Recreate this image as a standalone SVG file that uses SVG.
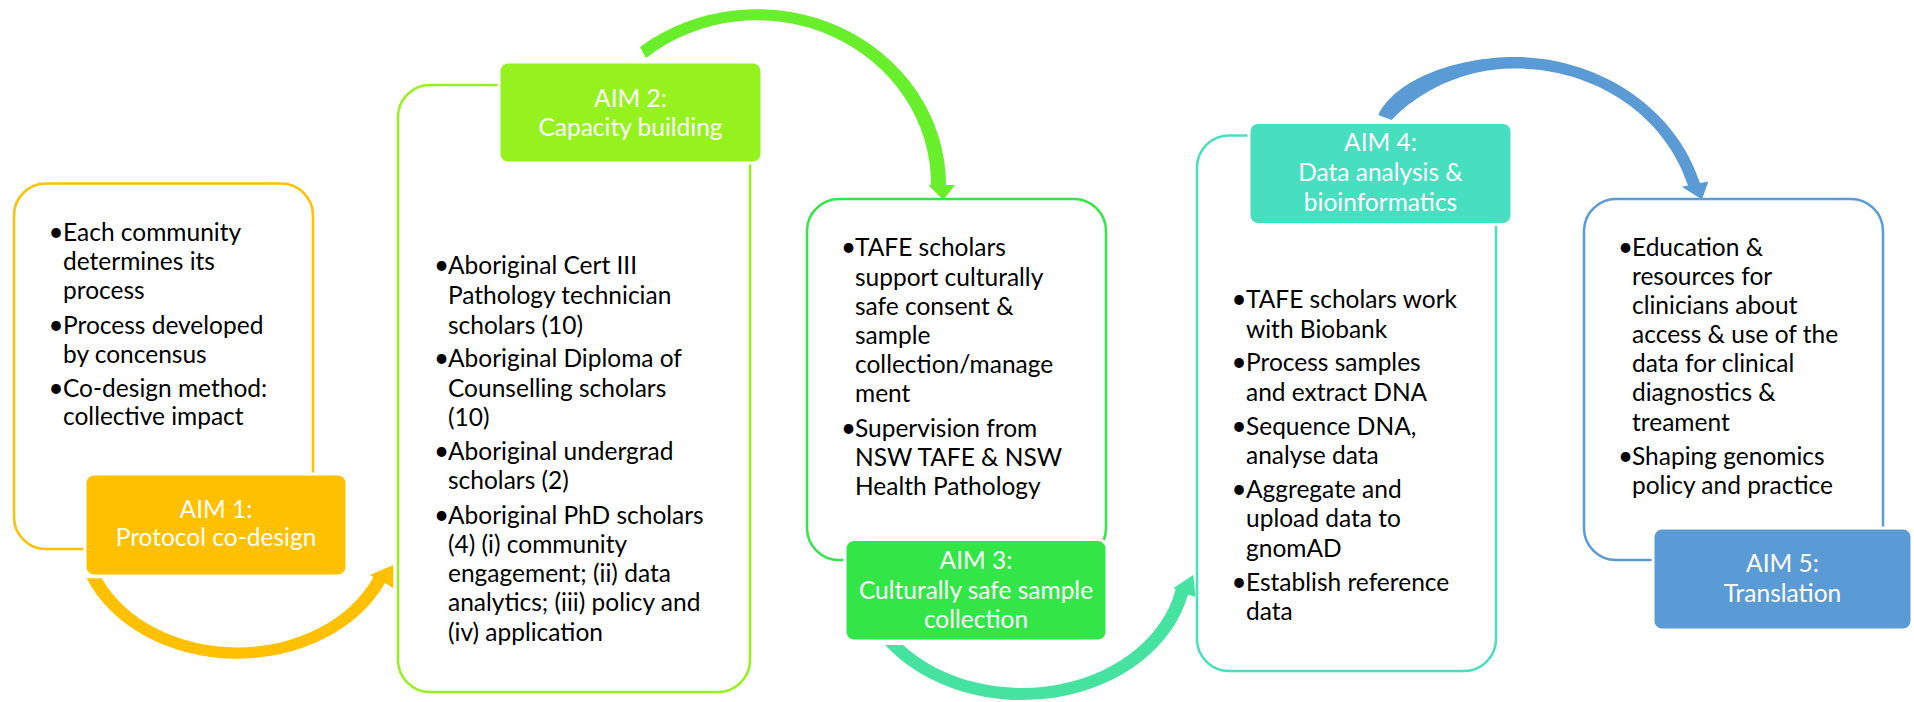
<svg xmlns="http://www.w3.org/2000/svg" width="1914" height="702" viewBox="0 0 1914 702">
<style>
.box{fill:#fff;stroke-width:2.5}
.lbl{stroke:#fff;stroke-width:3}
.t{font-family:Lato,"Open Sans",sans-serif;font-size:24.5px;fill:#000}
.b{font-family:Lato,"Open Sans",sans-serif;font-size:26px;fill:#000;text-anchor:middle}
.lt{font-family:Lato,"Open Sans",sans-serif;font-size:24.5px;fill:#fff;text-anchor:middle}
</style>
<rect width="1914" height="702" fill="#fff"/>
<g id="connectors">
<path id="arrow1" fill="#FFC000" d="M86.7,578.3 A162.2 128.5 0 0 0 385,583 L393.3,588.3 L393.3,565 L370,575 L373.5,577 A148.5 117 0 0 1 101.7,578.3 Z"/>
<path id="arrow2" fill="#68EE2A" d="M640,47 A189 176 0 0 1 946,185 L955,185 L943.3,200 L928.3,185 L931,185 A174 164 0 0 0 646,58 Z"/>
<path id="arrow3" fill="#45E2A0" d="M885.1,645 A170 135 0 0 0 1188,594.5 L1195.5,597 L1193.3,575 L1173.3,588.3 L1175.7,589 A156.7 123 0 0 1 903,645 Z"/>
<path id="arrow4" fill="#5B9BD5" d="M1378.3,115 C1395,80 1455,57 1515,57 C1595,57 1675,105 1700,183 L1708.3,181.7 L1702,199.5 L1681.7,186.7 L1688,185.5 C1665,115 1595,68.5 1515,68.5 C1462,68.5 1418,92 1391.7,120 Z"/>
</g>
<g id="aim1">
<rect class="box" x="14" y="183.5" width="299" height="365.5" rx="32" stroke="#FFC000"/>
<text class="b" x="56" y="241">•</text>
<text class="b" x="56" y="334">•</text>
<text class="b" x="56" y="396.5">•</text>
<text class="t"><tspan x="63" y="241">Each community</tspan><tspan x="63" y="269.7">determines its</tspan><tspan x="63" y="298.5">process</tspan><tspan x="63" y="334">Process developed</tspan><tspan x="63" y="362.7">by concensus</tspan><tspan x="63" y="396.5">Co-design method:</tspan><tspan x="63" y="425">collective impact</tspan></text>
<rect class="lbl" x="85" y="474" width="262" height="102" rx="9" fill="#FFC000"/>
<text class="lt"><tspan x="216" y="517.5">AIM 1:</tspan><tspan x="216" y="546">Protocol co-design</tspan></text>
</g>
<g id="aim2">
<rect class="box" x="398" y="85" width="352" height="607" rx="32" stroke="#95F21E"/>
<text class="b" x="441.5" y="274">•</text>
<text class="b" x="441.5" y="367">•</text>
<text class="b" x="441.5" y="460">•</text>
<text class="b" x="441.5" y="524">•</text>
<text class="t"><tspan x="448" y="274">Aboriginal Cert III</tspan><tspan x="448" y="303.5">Pathology technician</tspan><tspan x="448" y="333.5">scholars (10)</tspan><tspan x="448" y="367">Aboriginal Diploma of</tspan><tspan x="448" y="397">Counselling scholars</tspan><tspan x="448" y="426">(10)</tspan><tspan x="448" y="460">Aboriginal undergrad</tspan><tspan x="448" y="489">scholars (2)</tspan><tspan x="448" y="524">Aboriginal PhD scholars</tspan><tspan x="448" y="553">(4) (i) community</tspan><tspan x="448" y="582">engagement; (ii) data</tspan><tspan x="448" y="611">analytics; (iii) policy and</tspan><tspan x="448" y="641">(iv) application</tspan></text>
<rect class="lbl" x="499" y="62" width="263" height="101" rx="9" fill="#95F21E"/>
<text class="lt"><tspan x="630.5" y="106.5">AIM 2:</tspan><tspan x="630.5" y="135.6">Capacity building</tspan></text>
</g>
<g id="aim3">
<rect class="box" x="807" y="199" width="299" height="361" rx="32" stroke="#32E648"/>
<text class="b" x="848.5" y="256">•</text>
<text class="b" x="848.5" y="436.5">•</text>
<text class="t"><tspan x="855" y="256">TAFE scholars</tspan><tspan x="855" y="285.6">support culturally</tspan><tspan x="855" y="314.7">safe consent &amp;</tspan><tspan x="855" y="343.8">sample</tspan><tspan x="855" y="373">collection/manage</tspan><tspan x="855" y="402">ment</tspan><tspan x="855" y="436.5">Supervision from</tspan><tspan x="855" y="465.6">NSW TAFE &amp; NSW</tspan><tspan x="855" y="494.7">Health Pathology</tspan></text>
<rect class="lbl" x="845" y="539.5" width="262" height="101.5" rx="9" fill="#32E648"/>
<text class="lt"><tspan x="976" y="568.6">AIM 3:</tspan><tspan x="976" y="598.6">Culturally safe sample</tspan><tspan x="976" y="627.7">collection</tspan></text>
</g>
<g id="aim4">
<rect class="box" x="1197" y="135.5" width="299" height="535.5" rx="32" stroke="#48DEC0"/>
<text class="b" x="1239" y="307.8">•</text>
<text class="b" x="1239" y="371.4">•</text>
<text class="b" x="1239" y="434.7">•</text>
<text class="b" x="1239" y="498">•</text>
<text class="b" x="1239" y="590.6">•</text>
<text class="t"><tspan x="1246" y="307.8">TAFE scholars work</tspan><tspan x="1246" y="337.6">with Biobank</tspan><tspan x="1246" y="371.4">Process samples</tspan><tspan x="1246" y="400.8">and extract DNA</tspan><tspan x="1246" y="434.7">Sequence DNA,</tspan><tspan x="1246" y="464">analyse data</tspan><tspan x="1246" y="498">Aggregate and</tspan><tspan x="1246" y="527">upload data to</tspan><tspan x="1246" y="557">gnomAD</tspan><tspan x="1246" y="590.6">Establish reference</tspan><tspan x="1246" y="620.4">data</tspan></text>
<rect class="lbl" x="1249" y="122.4" width="263" height="102" rx="9" fill="#48DEC0"/>
<text class="lt"><tspan x="1380.5" y="150.6">AIM 4:</tspan><tspan x="1380.5" y="181">Data analysis &amp;</tspan><tspan x="1380.5" y="211">bioinformatics</tspan></text>
</g>
<g id="aim5">
<rect class="box" x="1584" y="199" width="299" height="361" rx="32" stroke="#5B9BD5"/>
<text class="b" x="1625.5" y="256">•</text>
<text class="b" x="1625.5" y="465">•</text>
<text class="t"><tspan x="1632" y="256">Education &amp;</tspan><tspan x="1632" y="285">resources for</tspan><tspan x="1632" y="314">clinicians about</tspan><tspan x="1632" y="343">access &amp; use of the</tspan><tspan x="1632" y="372">data for clinical</tspan><tspan x="1632" y="401">diagnostics &amp;</tspan><tspan x="1632" y="430.7">treament</tspan><tspan x="1632" y="465">Shaping genomics</tspan><tspan x="1632" y="494">policy and practice</tspan></text>
<rect class="lbl" x="1653" y="528" width="259" height="102" rx="9" fill="#5B9BD5"/>
<text class="lt"><tspan x="1782.5" y="571.7">AIM 5:</tspan><tspan x="1782.5" y="601.7">Translation</tspan></text>
</g>
</svg>
